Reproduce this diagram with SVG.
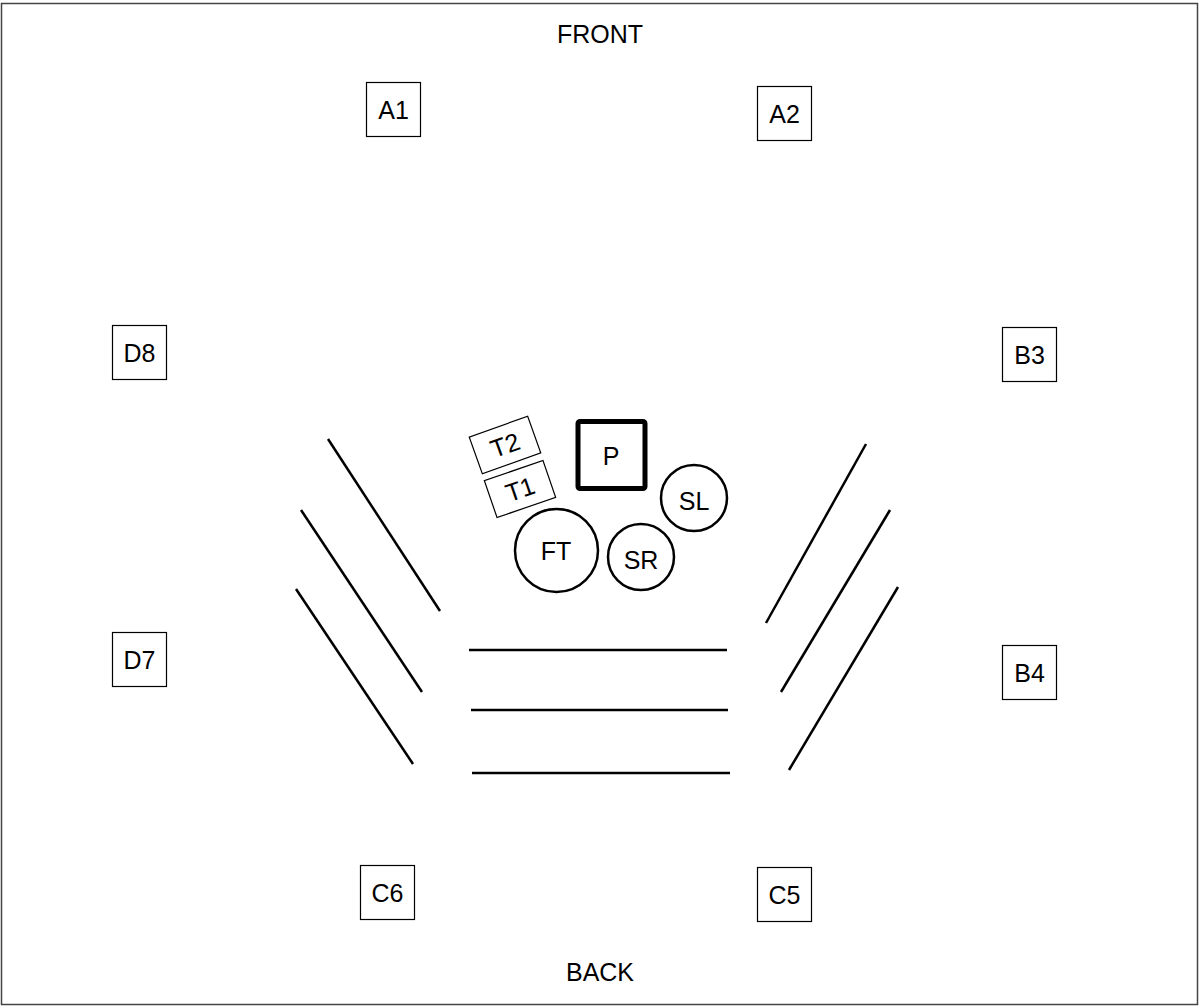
<svg xmlns="http://www.w3.org/2000/svg" width="1199" height="1006" viewBox="0 0 1199 1006">
<style>
.t{font-family:"Liberation Sans",Arial,sans-serif;font-size:25px;fill:#000;text-anchor:middle}
.b{fill:#fff;stroke:#000;stroke-width:1.2}
.c{fill:#fff;stroke:#000;stroke-width:2.5}
.l{stroke:#000;stroke-width:2.5;fill:none}
</style>
<rect x="1.5" y="3.5" width="1196" height="1001" fill="#fff" stroke="#444" stroke-width="1.5"/>
<text class="t" x="600" y="43">FRONT</text>
<text class="t" x="600" y="981">BACK</text>
<g id="A1"><rect class="b" x="366.5" y="82.5" width="54" height="54"/><text class="t" x="393.5" y="119">A1</text></g>
<g id="A2"><rect class="b" x="757.5" y="86.5" width="54" height="54"/><text class="t" x="784.5" y="123">A2</text></g>
<g id="D8"><rect class="b" x="112.5" y="325.5" width="54" height="54"/><text class="t" x="139.5" y="362">D8</text></g>
<g id="B3"><rect class="b" x="1002.5" y="327.5" width="54" height="54"/><text class="t" x="1029.5" y="364">B3</text></g>
<g id="D7"><rect class="b" x="112.5" y="632.5" width="54" height="54"/><text class="t" x="139.5" y="669">D7</text></g>
<g id="B4"><rect class="b" x="1002.5" y="645.5" width="54" height="54"/><text class="t" x="1029.5" y="682">B4</text></g>
<g id="C6"><rect class="b" x="360.5" y="865.5" width="54" height="54"/><text class="t" x="387.5" y="902">C6</text></g>
<g id="C5"><rect class="b" x="757.5" y="867.5" width="54" height="54"/><text class="t" x="784.5" y="904">C5</text></g>
<g id="P"><rect x="578" y="421.5" width="67" height="67" rx="2" fill="#fff" stroke="#000" stroke-width="5"/><text class="t" x="611" y="465">P</text></g>
<g id="T2" transform="translate(505,445) rotate(-19.6)"><rect class="b" x="-31" y="-19.5" width="62" height="39"/><text class="t" x="0" y="9">T2</text></g>
<g id="T1" transform="translate(520,489) rotate(-19)"><rect class="b" x="-31" y="-19.5" width="62" height="39"/><text class="t" x="0" y="9">T1</text></g>
<g id="FT"><circle class="c" cx="556.5" cy="550.5" r="41.5"/><text class="t" x="556" y="560">FT</text></g>
<g id="SR"><circle class="c" cx="641" cy="557" r="33"/><text class="t" x="641" y="569">SR</text></g>
<g id="SL"><circle class="c" cx="694" cy="498" r="33"/><text class="t" x="694" y="510">SL</text></g>
<g id="connectors">
<line class="l" x1="328" y1="439" x2="440" y2="611"/>
<line class="l" x1="301" y1="510" x2="422" y2="692"/>
<line class="l" x1="296" y1="589" x2="413" y2="764"/>
<line class="l" x1="469" y1="650" x2="727" y2="650"/>
<line class="l" x1="471" y1="710" x2="728" y2="710"/>
<line class="l" x1="472" y1="773" x2="730" y2="773"/>
<line class="l" x1="866" y1="444" x2="766" y2="623"/>
<line class="l" x1="890" y1="510" x2="781" y2="692"/>
<line class="l" x1="898" y1="587" x2="789" y2="770"/>
</g>
</svg>
